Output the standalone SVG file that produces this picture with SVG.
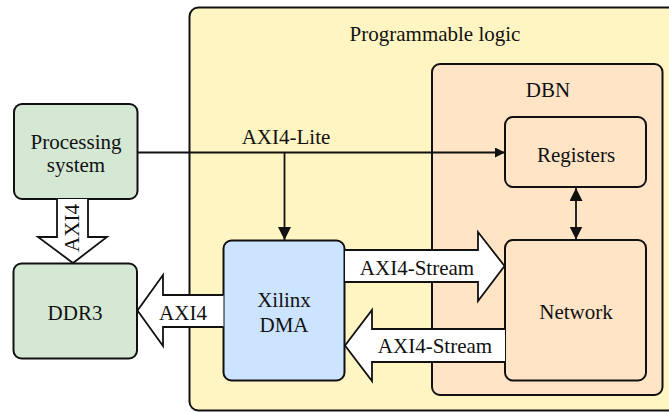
<svg xmlns="http://www.w3.org/2000/svg" width="669" height="412" viewBox="0 0 669 412">
<defs>
<style>
.t{font-family:"Liberation Serif","Times New Roman",serif;font-size:21px;fill:#111;text-anchor:middle}
.box{stroke:#111;stroke-width:2}
.fat{fill:#fff;stroke:#111;stroke-width:1.8;stroke-linejoin:miter}
.ln{stroke:#111;stroke-width:1.8;fill:none}
</style>
<marker id="ah" viewBox="0 0 10 10" refX="10" refY="5" markerWidth="10" markerHeight="10" markerUnits="userSpaceOnUse" orient="auto-start-reverse"><path d="M0,0 L10,5 L0,10 z" fill="#111"/></marker>
<marker id="ah2" viewBox="0 0 12 12" refX="12" refY="6" markerWidth="13" markerHeight="13" markerUnits="userSpaceOnUse" orient="auto-start-reverse"><path d="M0,0 L12,6 L0,12 z" fill="#111"/></marker>
</defs>
<rect width="669" height="412" fill="#fff"/>
<g id="pl"><rect class="box" x="189.5" y="7.5" width="500" height="403" rx="9" fill="#fff5c2"/><text class="t" x="435" y="41">Programmable logic</text></g>
<g id="dbn"><rect class="box" x="432" y="64" width="230.5" height="331" rx="8" fill="#ffe4c6"/><text class="t" x="548" y="97">DBN</text></g>
<g id="ps"><rect class="box" x="14" y="104" width="123.5" height="95" rx="8" fill="#d5e8d4"/><text class="t" x="76" y="149">Processing</text><text class="t" x="76" y="172">system</text></g>
<g id="ddr3"><rect class="box" x="13.5" y="263.5" width="123.5" height="95" rx="8" fill="#d5e8d4"/><text class="t" x="75" y="320">DDR3</text></g>
<g id="dma"><rect class="box" x="223.5" y="240.5" width="121" height="140" rx="8" fill="#cce4ff"/><text class="t" x="284" y="307">Xilinx</text><text class="t" x="284" y="332">DMA</text></g>
<g id="registers"><rect class="box" x="505" y="117" width="141" height="70" rx="8" fill="#ffe4c6"/><text class="t" x="576" y="162">Registers</text></g>
<g id="network"><rect class="box" x="505" y="240" width="141" height="140.5" rx="8" fill="#ffe4c6"/><text class="t" x="576" y="319">Network</text></g>
<g id="connectors">
<path class="ln" d="M137.5,152.5 H505" marker-end="url(#ah)"/>
<path class="ln" d="M284.5,152.5 V240" marker-end="url(#ah2)"/>
<path class="ln" d="M576,188 V239.5" marker-start="url(#ah2)" marker-end="url(#ah2)"/>
<path class="fat" d="M57,199 V237 H38 L73,263 L107,237 H88 V199"/>
<text class="t" transform="translate(79,228) rotate(-90)">AXI4</text>
<path class="fat" d="M223.5,295 H163 V275 L137.5,310.5 L163,346 V327 H223.5"/>
<text class="t" x="183" y="320">AXI4</text>
<path class="fat" d="M345,250 H478 V232 L504.5,266 L478,301 V282 H345"/>
<text class="t" x="417" y="275">AXI4-Stream</text>
<path class="fat" d="M505,329 H372 V310 L345,345.5 L372,381 V362 H505"/>
<text class="t" x="435" y="353">AXI4-Stream</text>
<text class="t" x="286" y="144">AXI4-Lite</text>
</g>
</svg>
